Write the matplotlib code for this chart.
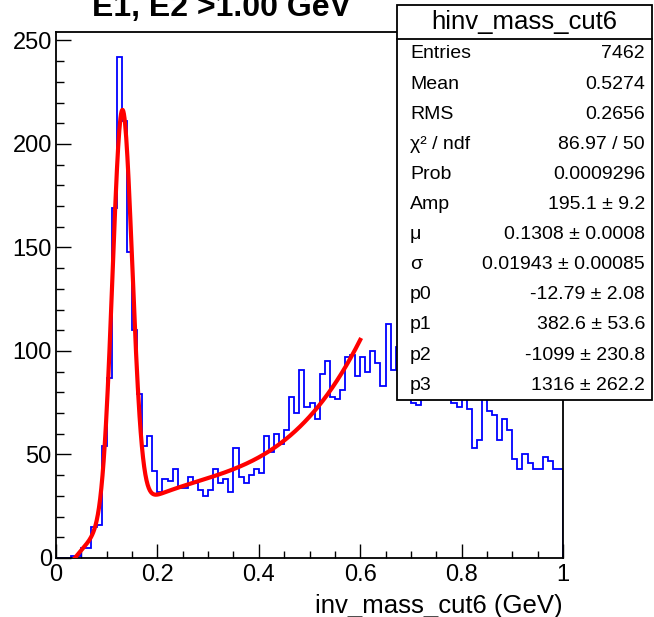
#!/usr/bin/python3
# -*- coding: utf-8 -*-

"""
description: invariant mass histogram with gaussian + pol3 fit, ROOT style
"""
import matplotlib
matplotlib.use('Agg')
import matplotlib.pyplot as plt
import numpy as np
from matplotlib.patches import Rectangle
from matplotlib.ticker import MultipleLocator

# histogram: 100 bins from 0 to 1 GeV
bin_edges = np.linspace(0.0, 1.0, 101)
counts = [
    0, 0, 0, 1, 1, 5, 5, 15, 16, 54,
    87, 169, 242, 211, 148, 110, 79, 54, 59, 42,
    32, 38, 37, 43, 34, 34, 39, 36, 33, 30,
    33, 43, 36, 38, 32, 53, 39, 36, 40, 43,
    41, 59, 51, 60, 55, 62, 78, 70, 91, 73,
    75, 67, 89, 95, 78, 77, 81, 97, 98, 88,
    97, 90, 100, 94, 83, 113, 91, 102, 95, 90,
    75, 74, 85, 90, 80, 88, 82, 80, 75, 73,
    78, 72, 53, 57, 80, 71, 69, 57, 67, 62,
    48, 43, 50, 46, 43, 43, 49, 47, 43, 43,
]

# fit parameters (gaus + pol3) as printed in the stats box
fit_amp = 195.1
fit_mu = 0.1308
fit_sigma = 0.01943
fit_poly = [-12.79, 382.6, -1099.0, 1316.0]
fit_range = (0.03, 0.6)

stats_title = "hinv_mass_cut6"
stats_names = ["Entries", "Mean", "RMS", "χ² / ndf", "Prob", "Amp",
               "μ", "σ", "p0", "p1", "p2", "p3"]
stats_values = ["7462", "0.5274", "0.2656", "86.97 / 50", "0.0009296",
                "195.1 ± 9.2", "0.1308 ± 0.0008", "0.01943 ± 0.00085",
                "-12.79 ± 2.08", "382.6 ± 53.6", "-1099 ± 230.8",
                "1316 ± 262.2"]

W, H = 654, 617


def px(x, y):
    # pixel position (from top-left) -> figure fraction
    return x / W, 1 - y / H


def fit_func(x):
    gaus = fit_amp * np.exp(-0.5 * ((x - fit_mu) / fit_sigma) ** 2)
    poly = sum(c * x ** i for i, c in enumerate(fit_poly))
    return gaus + poly


def draw():
    plt.rcParams['font.family'] = ['Liberation Sans', 'DejaVu Sans']
    fig = plt.figure(figsize=(W / 100, H / 100), dpi=100)

    # frame: x 56..563 px, y 32..558 px
    left, right, top, bottom = 56, 563, 32, 558
    ax = fig.add_axes([left / W, 1 - bottom / H,
                       (right - left) / W, (bottom - top) / H])

    ax.stairs(counts, bin_edges, color='#0000ff', lw=1.3, zorder=2)

    xf = np.linspace(fit_range[0], fit_range[1], 500)
    ax.plot(xf, fit_func(xf), color='#ff0000', lw=3.0, zorder=3)

    ax.set_xlim(0, 1)
    ax.set_ylim(0, 1.05 * max(counts))

    ax.xaxis.set_major_locator(MultipleLocator(0.2))
    ax.xaxis.set_minor_locator(MultipleLocator(0.05))
    ax.yaxis.set_major_locator(MultipleLocator(50))
    ax.yaxis.set_minor_locator(MultipleLocator(10))
    ax.xaxis.set_major_formatter(plt.FuncFormatter(lambda v, p: f"{v:g}"))
    ax.tick_params(which='both', direction='in', top=False, right=False,
                   labelsize=17, width=1.0)
    ax.tick_params(axis='x', which='major', length=10, pad=4)
    ax.tick_params(axis='x', which='minor', length=5)
    ax.tick_params(axis='y', which='major', length=11, pad=3)
    ax.tick_params(axis='y', which='minor', length=5.5)
    for s in ax.spines.values():
        s.set_linewidth(1.3)

    ax.set_xlabel("inv_mass_cut6 (GeV)", fontsize=18.5, loc='right',
                  labelpad=6)

    # title, partly cut by the top of the canvas
    fig.text(*px(222, 16), "E1, E2 >1.00 GeV", ha='center', va='baseline',
             fontsize=23, fontweight='bold')

    # stats box
    bx0, by0, bx1, by1 = 397, 5, 652, 400
    x0, y0 = px(bx0, by1)
    x1, y1 = px(bx1, by0)
    fig.add_artist(Rectangle((x0, y0), x1 - x0, y1 - y0,
                             transform=fig.transFigure, facecolor='white',
                             edgecolor='black', lw=1.3, zorder=10))
    sep = px(bx0, 39)[1]
    fig.add_artist(plt.Line2D([x0, x1], [sep, sep], transform=fig.transFigure,
                              color='black', lw=1.3, zorder=11))
    fig.text(*px((bx0 + bx1) / 2, 22), stats_title, ha='center',
             va='center', fontsize=18.5, zorder=12)
    for i, (name, val) in enumerate(zip(stats_names, stats_values)):
        yc = 54 + 30.1 * i
        fig.text(*px(410, yc), name, ha='left', va='center', fontsize=14,
                 zorder=12)
        fig.text(*px(645, yc), val, ha='right', va='center', fontsize=14,
                 zorder=12)

    fig.savefig('out.png', dpi=100)
    plt.close(fig)


if __name__ == "__main__":
    draw()
